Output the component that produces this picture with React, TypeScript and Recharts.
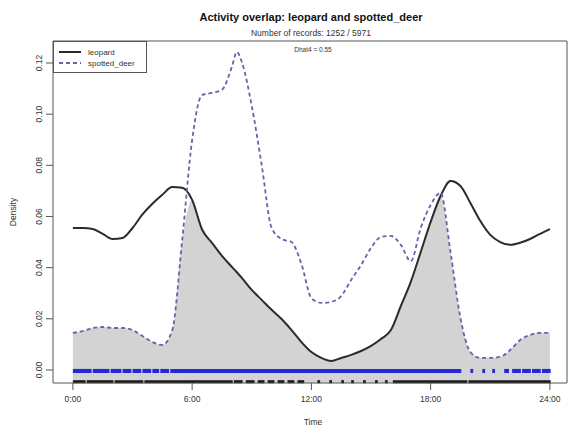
import React from 'react';
import { ComposedChart, Area, Line, XAxis, YAxis, ReferenceArea } from 'recharts';

// time of day (hours) and kernel density estimates
const hours = [0, 0.5, 1, 1.5, 2, 2.5, 3, 3.5, 4, 4.5, 5, 5.5, 6, 6.5, 7, 7.5, 8, 8.25, 8.5, 9, 9.5, 10, 10.5, 11, 11.5, 12, 12.5, 13, 13.5, 14, 14.5, 15, 15.5, 16, 16.5, 17, 17.5, 18, 18.5, 19, 19.5, 20, 20.5, 21, 21.5, 22, 22.5, 23, 23.5, 24];
const leopard = [0.0555, 0.0555, 0.0551, 0.0532, 0.0512, 0.0516, 0.0555, 0.0608, 0.065, 0.0685, 0.0715, 0.0712, 0.0665, 0.0549, 0.0497, 0.0446, 0.0403, 0.0382, 0.036, 0.0313, 0.0274, 0.0235, 0.0199, 0.0156, 0.0109, 0.007, 0.0047, 0.0035, 0.0047, 0.0059, 0.0074, 0.0094, 0.0121, 0.0156, 0.025, 0.0344, 0.0461, 0.0579, 0.068, 0.0739, 0.0719, 0.0653, 0.0582, 0.0528, 0.05, 0.0489, 0.0497, 0.0512, 0.0532, 0.0551];
const spottedDeer = [0.0145, 0.0152, 0.0164, 0.0168, 0.0164, 0.0164, 0.0156, 0.0133, 0.0109, 0.0098, 0.0156, 0.0508, 0.0899, 0.1075, 0.1083, 0.1095, 0.1185, 0.1243, 0.1204, 0.1032, 0.0801, 0.0555, 0.0512, 0.05, 0.0414, 0.0281, 0.0262, 0.0266, 0.0289, 0.0352, 0.041, 0.0477, 0.052, 0.0524, 0.0489, 0.0425, 0.0555, 0.0645, 0.0692, 0.0461, 0.0203, 0.007, 0.0047, 0.0047, 0.0051, 0.0078, 0.0117, 0.0137, 0.0145, 0.0145];

// rug: spans of detection times (hours)
const deerRug = [[0, 0.9], [1.0, 1.8], [1.9, 2.4], [2.5, 2.9], [3.0, 3.4], [3.5, 3.9], [4.0, 4.3], [4.4, 4.8], [4.9, 19.5], [20.0, 20.1], [20.6, 20.7], [21.1, 21.2], [21.7, 21.9], [22.1, 22.5], [22.6, 23.0], [23.1, 23.5], [23.6, 24.0]];
const leopardRug = [[0, 0.6], [0.7, 2.0], [2.1, 3.5], [3.6, 8.0], [8.1, 8.5], [8.7, 9.1], [9.3, 9.6], [9.8, 10.1], [10.3, 10.6], [10.8, 11.1], [11.3, 11.6], [12.3, 12.4], [12.9, 13.0], [13.5, 13.6], [14.0, 14.1], [14.6, 14.7], [15.2, 15.3], [15.7, 15.8], [16.1, 19.8], [19.9, 24.0]];

const xTicks = [0, 6, 12, 18, 24];
const xTickLabels = ['0:00', '6:00', '12:00', '18:00', '24:00'];
const yTicks = [0, 0.02, 0.04, 0.06, 0.08, 0.1, 0.12];

const species = [
  { key: 'leopard', name: 'leopard', color: '#2b2b2b', width: 2, dash: undefined },
  { key: 'spottedDeer', name: 'spotted_deer', color: '#6464aa', width: 1.8, dash: '4 3' },
];

const title = 'Activity overlap:  leopard and spotted_deer';
const subtitle = 'Number of records:  1252 / 5971';
const dhatText = 'Dhat4 = 0.55';

const X_MIN = -1.0;
const X_MAX = 24.86;
const Y_MIN = -0.0051;
const Y_MAX = 0.1286;

const data = hours.map((h, i) => ({
  h,
  leopard: leopard[i],
  spottedDeer: spottedDeer[i],
  overlap: Math.min(leopard[i], spottedDeer[i]),
}));

const FONT = '"Liberation Sans", Arial, Helvetica, sans-serif';

const YTick = ({ x, y, payload }: any) => (
  <text x={x} y={y} transform={`rotate(-90, ${x}, ${y})`} textAnchor="middle" fontSize={8.5} fill="#333" fontFamily={FONT}>
    {payload.value.toFixed(2)}
  </text>
);

export default function App() {
  return (
    <div style={{ position: 'relative', width: 569, height: 433, background: '#fff', fontFamily: FONT }}>
      <style>{`body{margin:0}`}</style>
      <ComposedChart width={569} height={433} data={data} margin={{ top: 41, right: 2, bottom: 10, left: 13 }}>
        <XAxis
          dataKey="h" type="number" domain={[X_MIN, X_MAX]} allowDataOverflow ticks={xTicks}
          tickFormatter={(v) => xTickLabels[xTicks.indexOf(v)]}
          axisLine={false} tickSize={7} tickMargin={6} height={40}
          tick={{ fill: '#333', fontSize: 8.5, fontFamily: FONT }} stroke="#555"
        />
        <YAxis
          type="number" domain={[Y_MIN, Y_MAX]} allowDataOverflow ticks={yTicks} width={40}
          axisLine={false} tickSize={7} tickMargin={4} tick={<YTick />} stroke="#555"
        />
        <Area dataKey="overlap" type="monotone" stroke="none" fill="#d3d3d3" fillOpacity={1} baseValue={Y_MIN} isAnimationActive={false} />
        {deerRug.map(([a, b], i) => (
          <ReferenceArea key={'d' + i} x1={a} x2={b + 0.04} y1={-0.0012} y2={0.0004} fill="#2727d6" fillOpacity={1} stroke="none" ifOverflow="visible" />
        ))}
        {leopardRug.map(([a, b], i) => (
          <ReferenceArea key={'l' + i} x1={a} x2={b + 0.04} y1={-0.0052} y2={-0.004} fill="#1a1a1a" fillOpacity={1} stroke="none" ifOverflow="visible" />
        ))}
        {species.map((s) => (
          <Line key={s.key} dataKey={s.key} type="monotone" stroke={s.color} strokeWidth={s.width} strokeDasharray={s.dash} dot={false} isAnimationActive={false} />
        ))}
        <ReferenceArea x1={X_MIN} x2={X_MAX} y1={Y_MIN} y2={Y_MAX} fill="none" stroke="#555" strokeWidth={1} ifOverflow="visible" />
      </ComposedChart>
      <svg width={569} height={433} style={{ position: 'absolute', left: 0, top: 0, pointerEvents: 'none' }} fontFamily={FONT}>
        <text x={311} y={21} textAnchor="middle" fontSize={11} fontWeight="bold" fill="#111">{title}</text>
        <text x={311} y={36} textAnchor="middle" fontSize={8.5} fill="#333">{subtitle}</text>
        <text x={313} y={52} textAnchor="middle" fontSize={6.5} fill="#333">{dhatText}</text>
        <text x={313} y={425} textAnchor="middle" fontSize={8.5} fill="#333">Time</text>
        <text x={16} y={212} transform="rotate(-90, 16, 212)" textAnchor="middle" fontSize={8.5} fill="#333">Density</text>
        <rect x={53.5} y={41.5} width={93} height={31} fill="#fff" stroke="#555" />
        {species.map((s, i) => (
          <g key={s.key}>
            <line x1={59} x2={81} y1={52 + i * 11} y2={52 + i * 11} stroke={s.color} strokeWidth={s.width} strokeDasharray={s.dash} />
            <text x={88} y={55 + i * 11} fontSize={8} fill="#333">{s.name}</text>
          </g>
        ))}
      </svg>
    </div>
  );
}
